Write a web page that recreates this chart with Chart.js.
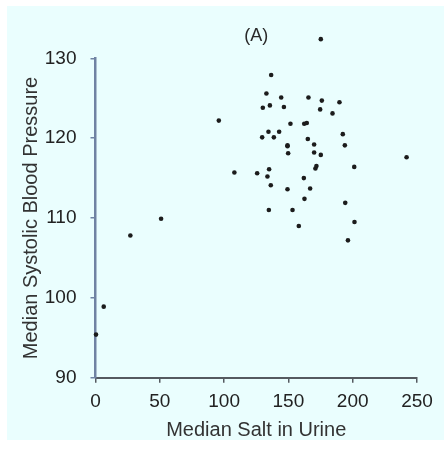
<!DOCTYPE html>
<html>
<head>
<meta charset="utf-8">
<script src="https://cdn.jsdelivr.net/npm/chart.js@4"></script>
<style>
  html, body { margin: 0; padding: 0; background: #ffffff; }
  #wrap { width: 444px; height: 460px; position: relative; }
</style>
</head>
<body>
<div id="wrap"><canvas id="c" width="444" height="460"></canvas></div>
<script>
const panelLabel = "(A)";
const xTitle = "Median Salt in Urine";
const yTitle = "Median Systolic Blood Pressure";
const xTicks = [0, 50, 100, 150, 200, 250];
const yTicks = [90, 100, 110, 120, 130];

const saltValues = [
  0.4, 6.4, 27.1, 51.0, 95.9, 108.0, 125.7, 129.6, 130.1, 132.9,
  133.7, 134.5, 134.8, 135.0, 135.6, 136.3, 136.6, 138.7, 142.8, 144.4,
  146.5, 149.3, 149.3, 149.3, 149.8, 151.6, 153.2, 158.1, 162.0, 162.3,
  162.5, 164.3, 165.1, 165.6, 166.9, 170.0, 170.0, 171.0, 171.8, 174.7,
  175.2, 175.2, 176.0, 184.3, 189.7, 192.3, 193.9, 194.2, 196.3, 201.2,
  201.4, 241.9
];
const pressureValues = [
  95.4, 98.9, 107.8, 109.9, 122.2, 115.7, 115.6, 120.1, 123.8, 125.6,
  115.2, 120.8, 111.0, 116.1, 124.1, 114.1, 127.9, 120.1, 120.8, 125.1,
  123.9, 119.1, 119.0, 113.6, 118.1, 121.8, 111.0, 109.0, 115.0, 121.8,
  112.4, 121.9, 119.9, 125.1, 113.7, 119.2, 118.2, 116.2, 116.5, 123.6,
  132.4, 117.9, 124.7, 123.1, 124.5, 120.5, 119.1, 111.9, 107.2, 116.4,
  109.5, 117.6
];

const points = saltValues.map((x, i) => ({ x: x, y: pressureValues[i] }));

const panelBg = {
  id: 'panelBg',
  beforeDraw(chart) {
    const ctx = chart.ctx;
    ctx.save();
    ctx.fillStyle = '#ffffff';
    ctx.fillRect(0, 0, chart.width, chart.height);
    ctx.fillStyle = '#eafefe';
    ctx.fillRect(7, 6, chart.width - 7, 434);
    ctx.restore();
  }
};

// let points above the top tick (130) still be drawn by the library
const unclipPoints = {
  id: 'unclipPoints',
  beforeDatasetsDraw(chart) {
    chart._savedArea = chart.chartArea;
    chart.chartArea = Object.assign({}, chart.chartArea, { top: 0 });
  },
  afterDatasetsDraw(chart) {
    if (chart._savedArea) chart.chartArea = chart._savedArea;
  }
};

const fontFamily = '"Liberation Sans", Arial, Helvetica, sans-serif';

new Chart(document.getElementById('c'), {
  type: 'scatter',
  data: {
    datasets: [{
      data: points,
      clip: false,
      backgroundColor: '#1c1c1c',
      borderColor: '#1c1c1c',
      pointRadius: 2.3,
      pointBorderWidth: 0,
      pointHoverRadius: 2.3
    }]
  },
  options: {
    responsive: false,
    animation: false,
    events: [],
    layout: { padding: { left: 0, right: 27, top: 0, bottom: 0 } },
    plugins: {
      legend: { display: false },
      tooltip: { enabled: false },
      title: {
        display: true,
        text: panelLabel,
        fullSize: false,
        color: '#2a2a2a',
        font: { family: fontFamily, size: 18, weight: 'normal', lineHeight: 1.2 },
        padding: { top: 25.2, bottom: 11.5 }
      }
    },
    scales: {
      x: {
        type: 'linear',
        min: 0, max: 250,
        afterBuildTicks(scale) { scale.ticks = xTicks.map(v => ({ value: v })); },
        afterFit(scale) { scale.height = 460 - 377.7; },
        border: { display: true, color: '#555a60', width: 2 },
        grid: { drawOnChartArea: false, drawTicks: true, tickLength: 5, color: '#555a60', lineWidth: 1.5 },
        ticks: { color: '#222', padding: 8, font: { family: fontFamily, size: 19 } },
        title: {
          display: true, text: xTitle, color: '#333',
          font: { family: fontFamily, size: 20 },
          padding: { top: 0, bottom: 18 }
        }
      },
      y: {
        type: 'linear',
        min: 90, max: 130,
        afterBuildTicks(scale) { scale.ticks = yTicks.map(v => ({ value: v })); },
        afterFit(scale) { scale.width = 95.5; },
        border: { display: true, color: '#7083a3', width: 2.5 },
        grid: { drawOnChartArea: false, drawTicks: true, tickLength: 5, color: '#7083a3', lineWidth: 1.5 },
        ticks: { color: '#222', padding: 14, font: { family: fontFamily, size: 19 } },
        title: {
          display: true, text: yTitle, color: '#333',
          font: { family: fontFamily, size: 20 },
          padding: { top: 19, bottom: 0 }
        }
      }
    }
  },
  plugins: [panelBg, unclipPoints]
});
</script>
</body>
</html>
